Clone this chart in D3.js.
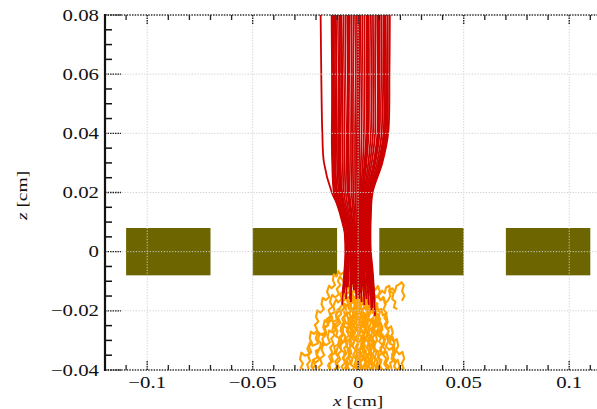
<!DOCTYPE html>
<html>
<head>
<meta charset="utf-8">
<script src="https://cdn.jsdelivr.net/npm/d3@7/dist/d3.min.js"></script>
<style>
  html, body { margin: 0; padding: 0; background: #fff; }
  svg { display: block; }
  text { font-family: "Liberation Serif", "Times New Roman", serif; fill: #111; }
</style>
</head>
<body>
<svg id="chart" width="597" height="409"></svg>
<script>
// Axis ticks (cm)
const xMajorTicks = [-0.1, -0.05, 0, 0.05, 0.1];
const xTickLabels = ["\u22120.1", "\u22120.05", "0", "0.05", "0.1"];
const zMajorTicks = [-0.04, -0.02, 0, 0.02, 0.04, 0.06, 0.08];
const zTickLabels = ["\u22120.04", "\u22120.02", "0", "0.02", "0.04", "0.06", "0.08"];
const xMinorStep = 0.01;
const zMinorStep = 0.005;

// Electrode blocks (cm)
const gateX0 = [-0.11, -0.05, 0.01, 0.07];
const gateX1 = [-0.07, -0.01, 0.05, 0.11];
const gateZ = [-0.008, 0.008];

// Track coordinates are stored in units of 10 µm (0.001 cm)
const TRACK_UNIT = 0.001;

// Focused (red) tracks: x sampled at these z levels, then a final end point
const redLevels = [80, 60, 40, 30, 20, 12, 5, 0, -6];
const redTrackX = [
  [-17.8, -17.5, -17.0, -16.2, -12.5, -7.2, -6.3, -6.1, -6.3],
  [-12.6, -12.4, -12.2, -12.0, -11.2, -8.0, -5.8, -5.5, -6.0],
  [-11.8, -11.9, -11.6, -11.5, -10.6, -7.6, -5.4, -5.1, -5.6],
  [-12.3, -12.1, -12.5, -12.3, -11.5, -8.3, -6.0, -5.8, -6.5],
  [-10.9, -11.0, -10.8, -10.8, -9.9, -7.1, -5.0, -4.7, -5.0],
  [-10.0, -10.3, -10.1, -10.0, -9.2, -6.6, -4.6, -4.4, -4.5],
  [-9.0, -9.2, -9.4, -9.3, -8.6, -6.1, -4.3, -4.0, -3.8],
  [-8.1, -8.0, -8.3, -8.3, -7.6, -5.5, -3.8, -3.6, -3.2],
  [-7.0, -7.3, -7.4, -7.3, -6.8, -4.9, -3.4, -3.2, -3.0],
  [-6.0, -6.2, -6.5, -6.4, -5.9, -4.3, -3.0, -2.8, -2.5],
  [-5.1, -5.0, -5.4, -5.4, -5.0, -3.6, -2.5, -2.3, -2.0],
  [-4.0, -4.3, -4.5, -4.4, -4.1, -3.0, -2.1, -1.9, -1.5],
  [-3.1, -3.2, -3.4, -3.4, -3.1, -2.3, -1.6, -1.5, -1.3],
  [-2.0, -2.4, -2.5, -2.5, -2.3, -1.7, -1.2, -1.1, -0.8],
  [-1.0, -1.2, -1.5, -1.5, -1.4, -1.0, -0.7, -0.6, -0.4],
  [0.0, -0.3, -0.6, -0.6, -0.5, -0.4, -0.3, -0.2, 0.0],
  [1.0, 0.8, 0.5, 0.4, 0.3, 0.2, 0.2, 0.3, 0.5],
  [2.0, 1.8, 1.6, 1.3, 0.8, 0.7, 0.7, 0.8, 1.1],
  [3.0, 2.9, 2.7, 2.2, 1.3, 1.1, 1.1, 1.2, 1.5],
  [4.1, 3.9, 3.8, 3.0, 1.8, 1.6, 1.5, 1.6, 2.0],
  [5.0, 5.1, 4.9, 3.9, 2.4, 2.1, 2.0, 2.1, 2.5],
  [6.0, 6.2, 6.0, 4.8, 2.9, 2.5, 2.4, 2.5, 3.0],
  [7.0, 7.1, 7.0, 5.6, 3.4, 3.0, 2.8, 3.0, 3.6],
  [8.1, 8.0, 8.0, 6.4, 3.9, 3.4, 3.2, 3.4, 4.1],
  [9.0, 9.2, 9.1, 7.3, 4.4, 3.8, 3.6, 3.8, 4.5],
  [10.1, 10.2, 10.1, 8.1, 4.9, 4.3, 4.0, 4.2, 4.9],
  [11.0, 11.2, 11.1, 8.9, 5.3, 4.7, 4.4, 4.6, 5.3],
  [12.0, 12.1, 12.0, 9.6, 5.8, 5.0, 4.8, 5.0, 5.7],
  [13.0, 13.2, 13.0, 10.4, 6.2, 5.4, 5.2, 5.4, 6.1],
  [14.0, 14.0, 13.6, 10.9, 6.5, 5.7, 5.5, 5.7, 6.5],
  [15.0, 14.8, 14.2, 11.4, 6.8, 6.0, 5.8, 6.0, 6.8],
  [-11.4, -11.6, -11.2, -11.1, -10.2, -7.3, -5.2, -4.9, -5.3],
  [-8.6, -8.7, -8.9, -8.8, -8.1, -5.8, -4.0, -3.8, -3.5],
  [-4.5, -4.6, -5.0, -4.9, -4.6, -3.3, -2.3, -2.1, -1.8],
  [0.5, 0.2, 0.0, -0.1, -0.1, -0.1, 0.0, 0.1, 0.3],
  [4.5, 4.6, 4.3, 3.5, 2.1, 1.8, 1.7, 1.9, 2.3],
  [9.5, 9.7, 9.6, 7.7, 4.6, 4.0, 3.8, 4.0, 4.7],
  [12.5, 12.6, 12.5, 10.0, 6.0, 5.2, 5.0, 5.2, 5.9]
];
const redTrackEnd = [
  [-6.8, -14], [-7.2, -13], [-6.8, -14], [-7.6, -18], [-5.8, -16], [-4.9, -12],
  [-3.4, -15], [-2.6, -11], [-3.5, -17], [-2.0, -13], [-1.6, -10], [-1.0, -14],
  [-0.8, -16], [-0.2, -12], [0.2, -15], [0.4, -11], [0.9, -14], [1.6, -17],
  [2.0, -12], [2.6, -15], [3.3, -13], [3.9, -16], [4.6, -14], [5.0, -18],
  [5.4, -13], [5.8, -15], [6.3, -20], [6.0, -11], [7.1, -16], [8.0, -21.7], [7.8, -17],
  [-6.2, -12], [-3.9, -16], [-1.4, -13], [0.6, -16], [2.9, -18], [5.5, -12], [6.8, -19]
];

// Scattered (orange) tracks: flat x,z pairs
const orangeTracks = [
  [-7.2,-13, -8.5,-14.5, -7.8,-16, -9.6,-17.2, -10.4,-16.1, -11.8,-18.3, -11.1,-20.4, -13.0,-21.2, -12.2,-23.0, -14.5,-24.1, -15.9,-23.2, -16.6,-25.6, -15.4,-27.3, -17.8,-28.0, -19.2,-27.1, -20.1,-29.4, -19.0,-31.0, -21.6,-31.8, -22.8,-30.6, -24.1,-32.9, -23.0,-34.5, -25.3,-35.2, -26.9,-34.1, -27.6,-36.3, -26.2,-37.8, -27.2,-39.2, -25.8,-40],
  [-6.8,-14, -5.9,-15.8, -7.5,-17.1, -6.6,-19.0, -8.3,-20.2, -9.7,-19.5, -10.5,-21.8, -9.2,-23.4, -11.0,-24.6, -10.2,-26.5, -12.4,-27.3, -13.8,-26.6, -14.5,-28.9, -13.4,-30.7, -15.2,-31.6, -16.7,-30.9, -17.3,-33.2, -16.1,-35.0, -18.0,-36.1, -17.2,-38.0, -18.8,-39.1, -18.1,-40],
  [-5.8,-16, -4.6,-17.6, -6.1,-18.8, -5.3,-20.7, -6.9,-21.9, -6.0,-23.8, -7.6,-24.5, -8.4,-26.7, -7.1,-28.1, -8.8,-29.5, -8.0,-31.4, -9.7,-32.3, -10.6,-34.5, -9.2,-35.8, -10.9,-37.1, -10.1,-39.0, -11.4,-40],
  [-4.9,-12, -6.2,-11.1, -7.4,-9.6, -8.7,-8.4, -9.6,-9.9, -8.5,-11.3, -10.2,-12.6, -9.1,-14.4, -11.0,-15.5, -12.3,-14.6, -13.4,-16.9, -12.2,-18.6, -14.0,-19.7, -13.1,-21.8, -15.0,-22.9, -14.2,-24.8, -16.1,-26.0, -15.3,-28.1, -17.0,-29.4, -16.2,-31.5, -18.4,-32.6, -19.6,-34.8, -18.3,-36.4, -20.2,-37.5, -21.4,-36.6, -22.2,-38.8, -21.0,-40],
  [-3.4,-15, -2.2,-16.4, -3.7,-17.9, -2.8,-19.6, -4.3,-20.8, -3.1,-22.5, -4.8,-23.6, -3.9,-25.4, -5.5,-26.7, -4.4,-28.3, -6.0,-29.5, -5.1,-31.4, -6.7,-32.6, -5.6,-34.5, -7.2,-35.7, -6.3,-37.6, -7.9,-38.8, -7.0,-40],
  [-2.6,-11, -1.4,-12.6, -2.9,-13.9, -1.8,-15.7, -0.4,-16.8, -1.5,-18.5, -0.2,-20.0, 1.2,-19.2, 1.9,-21.4, 0.7,-23.1, 2.2,-24.3, 1.3,-26.1, 2.8,-27.4, 1.6,-29.2, 3.1,-30.5, 2.2,-32.3, 3.7,-33.6, 2.5,-35.4, 4.0,-36.7, 3.0,-38.5, 4.4,-40],
  [-3.5,-17, -4.9,-18.4, -3.8,-20.1, -5.4,-21.3, -4.5,-23.2, -2.9,-24.0, -3.6,-26.0, -2.1,-27.2, -3.3,-28.9, -1.8,-30.2, -2.7,-32.0, -1.2,-33.4, -2.4,-35.1, -0.9,-36.4, -1.8,-38.2, -0.5,-40],
  [-2.0,-13, -0.8,-14.6, -2.1,-16.2, -0.9,-17.8, -2.3,-19.4, -1.1,-21.0, -2.6,-22.6, -1.4,-24.2, -2.9,-25.8, -1.5,-27.5, -3.0,-29.0, -4.4,-30.1, -3.6,-32.0, -5.0,-33.3, -4.1,-35.1, -5.6,-36.3, -4.7,-38.1, -6.2,-39.3, -5.4,-40],
  [-1.6,-10, -2.8,-8.6, -1.9,-7.2, -0.6,-8.4, -1.3,-10.2, 0.1,-11.6, -0.9,-13.3, 0.5,-14.8, -0.5,-16.5, 0.9,-18.0, 0.0,-19.8, 1.4,-21.3, 0.4,-23.0, 1.8,-24.5, 0.9,-26.3, 2.4,-27.7, 1.2,-29.4, 2.7,-30.9, 1.6,-32.6, 3.1,-34.1, 2.0,-35.8, 3.5,-37.3, 2.3,-39.0, 3.2,-40],
  [-1.0,-14, 0.3,-15.5, -0.6,-17.3, 0.8,-18.8, -0.2,-20.6, -1.6,-21.8, -0.8,-23.6, -2.2,-24.9, -1.1,-26.6, -2.5,-27.9, -1.3,-29.7, 0.2,-30.8, -0.6,-32.7, 0.9,-33.9, -0.1,-35.7, 1.3,-37.0, 0.4,-38.8, 1.6,-40],
  [-0.8,-16, -2.1,-17.4, -1.0,-19.1, -2.6,-20.3, -1.5,-22.1, -3.0,-23.3, -2.0,-25.1, -3.6,-26.4, -2.5,-28.2, -4.0,-29.4, -2.8,-31.2, -4.3,-32.5, -3.2,-34.3, -4.8,-35.5, -3.7,-37.3, -5.2,-38.6, -4.2,-40],
  [0.2,-15, 1.5,-16.4, 0.6,-18.1, 2.0,-19.5, 1.1,-21.3, 2.6,-22.6, 1.7,-24.4, 3.2,-25.7, 4.6,-24.9, 5.3,-27.0, 4.2,-28.6, 5.7,-29.9, 4.8,-31.7, 6.3,-33.0, 5.4,-34.8, 6.9,-36.1, 5.9,-37.9, 7.2,-39.2, 6.4,-40],
  [0.4,-11, 1.7,-9.8, 2.9,-11.2, 2.1,-12.9, 3.5,-14.2, 2.6,-16.0, 4.0,-17.3, 3.1,-19.1, 4.6,-20.4, 3.6,-22.2, 5.1,-23.5, 6.5,-22.7, 7.2,-24.9, 6.1,-26.5, 7.6,-27.8, 6.7,-29.6, 8.2,-30.9, 7.2,-32.7, 8.7,-34.0, 7.8,-35.8, 9.2,-37.1, 8.3,-38.9, 9.5,-40],
  [0.9,-14, -0.4,-15.6, 0.7,-17.2, -0.6,-18.9, 0.6,-20.5, -0.7,-22.2, 0.5,-23.8, -0.9,-25.5, 0.4,-27.1, -1.0,-28.8, 0.3,-30.4, -1.1,-32.1, 0.2,-33.7, -1.3,-35.4, 0.1,-37.0, -1.4,-38.7, -0.3,-40],
  [1.6,-17, 3.0,-18.3, 2.0,-20.1, 3.5,-21.4, 2.5,-23.2, 4.0,-24.5, 3.0,-26.3, 4.5,-27.6, 3.5,-29.4, 5.0,-30.7, 4.0,-32.5, 5.4,-33.8, 4.4,-35.6, 5.9,-36.9, 4.9,-38.7, 6.0,-40],
  [2.0,-12, 3.4,-13.1, 4.8,-12.2, 5.6,-14.3, 7.1,-13.5, 8.0,-15.6, 9.4,-14.8, 10.6,-16.4, 11.9,-15.3, 12.6,-17.5, 14.0,-16.6, 15.3,-14.9, 14.6,-13.1, 16.2,-12.4, 17.4,-13.6, 18.1,-11.6, 19.6,-11.0, 20.5,-10.3, 21.6,-11.4, 20.8,-13.3, 21.9,-15.0, 20.7,-16.6],
  [2.6,-15, 4.0,-16.4, 5.3,-15.6, 6.1,-17.8, 5.0,-19.4, 6.6,-20.6, 8.0,-19.8, 8.8,-22.0, 7.7,-23.6, 9.3,-24.8, 10.7,-24.0, 11.5,-26.2, 10.4,-27.8, 12.0,-29.0, 13.4,-28.2, 14.2,-30.4, 13.1,-32.0, 14.7,-33.2, 16.1,-32.4, 16.9,-34.6, 15.8,-36.2, 17.4,-37.4, 18.8,-36.6, 19.6,-38.8, 18.9,-40],
  [3.3,-13, 4.6,-14.5, 3.7,-16.2, 5.1,-17.6, 4.2,-19.4, 5.7,-20.7, 4.7,-22.5, 6.2,-23.8, 5.2,-25.6, 6.8,-26.9, 5.8,-28.7, 7.3,-30.0, 6.3,-31.8, 7.8,-33.1, 6.8,-34.9, 8.3,-36.2, 7.3,-38.0, 8.7,-39.3, 8.0,-40],
  [3.9,-16, 5.4,-17.2, 6.6,-16.3, 7.3,-18.5, 8.8,-17.8, 9.5,-20.0, 10.9,-19.3, 11.7,-21.6, 13.1,-20.8, 13.8,-23.1, 12.6,-24.7, 14.2,-26.0, 15.6,-25.2, 16.4,-27.5, 15.3,-29.1, 16.9,-30.3, 18.3,-29.6, 19.0,-31.8, 17.9,-33.4, 19.5,-34.7, 21.0,-33.9, 21.8,-36.2, 20.6,-37.8, 21.5,-39.4, 20.4,-40],
  [4.6,-14, 6.0,-15.2, 5.1,-17.0, 6.6,-18.3, 7.9,-17.4, 8.7,-19.7, 7.5,-21.3, 9.0,-22.6, 8.1,-24.4, 9.7,-25.6, 8.6,-27.4, 10.1,-28.7, 11.5,-27.9, 12.3,-30.2, 11.2,-31.8, 12.8,-33.0, 11.8,-34.8, 13.3,-36.1, 12.3,-37.9, 13.6,-39.2, 12.9,-40],
  [5.0,-18, 3.6,-19.3, 4.6,-21.0, 3.1,-22.3, 4.2,-24.1, 2.7,-25.3, 3.7,-27.1, 2.2,-28.4, 3.3,-30.1, 1.8,-31.4, 2.9,-33.2, 1.4,-34.4, 2.4,-36.2, 0.9,-37.5, 2.0,-39.2, 1.1,-40],
  [5.4,-13, 6.8,-11.9, 8.1,-12.9, 9.4,-11.6, 10.3,-13.6, 9.2,-15.3, 10.8,-16.4, 12.2,-15.6, 13.0,-17.9, 11.9,-19.5, 13.5,-20.7, 12.4,-22.5, 14.0,-23.7, 12.9,-25.5, 14.5,-26.7, 13.4,-28.5, 15.0,-29.7, 16.4,-28.9, 17.2,-31.2, 16.0,-32.8, 17.6,-34.0, 16.5,-35.8, 18.0,-37.0, 17.0,-38.8, 18.2,-40],
  [5.8,-15, 4.4,-16.3, 5.4,-18.0, 3.9,-19.3, 5.0,-21.1, 3.5,-22.4, 4.6,-24.2, 3.1,-25.5, 4.1,-27.3, 5.6,-28.5, 4.5,-30.3, 6.0,-31.6, 5.0,-33.4, 6.5,-34.7, 5.5,-36.5, 7.0,-37.8, 6.1,-39.6],
  [6.3,-20, 7.8,-21.2, 6.8,-23.0, 8.3,-24.3, 7.3,-26.1, 8.8,-27.4, 10.2,-26.5, 11.0,-28.8, 9.9,-30.4, 11.5,-31.6, 10.4,-33.4, 12.0,-34.6, 13.4,-33.8, 14.2,-36.1, 13.0,-37.7, 14.6,-38.9, 13.8,-40],
  [-6.5,-13, -5.4,-11.4, -6.6,-9.9, -5.5,-8.3, -6.9,-7.0, -8.3,-7.8, -9.4,-6.6, -10.2,-8.4, -11.6,-7.7, -12.0,-9.6, -11.0,-11.3, -12.6,-12.4, -13.8,-11.5, -14.8,-13.6, -13.7,-15.3, -15.4,-16.4, -16.8,-15.6, -17.4,-17.8, -16.3,-19.4, -17.9,-20.6, -19.3,-19.8, -20.0,-22.0, -18.9,-23.6, -20.5,-24.8, -19.4,-26.6, -21.0,-27.8, -22.4,-27.0, -23.0,-29.3, -21.9,-30.9, -23.4,-32.1, -22.3,-33.9, -23.8,-35.1, -22.8,-36.9, -24.2,-38.1, -23.3,-39.9],
  [-7.6,-18, -9.0,-19.3, -8.0,-21.0, -9.6,-22.2, -8.5,-24.0, -10.1,-25.2, -11.5,-24.4, -12.3,-26.6, -11.2,-28.2, -12.8,-29.4, -11.7,-31.2, -13.3,-32.4, -12.2,-34.2, -13.8,-35.4, -12.7,-37.2, -14.3,-38.4, -13.4,-40],
  [-2.5,-11, -3.9,-12.4, -2.9,-14.1, -4.4,-15.4, -3.4,-17.2, -4.9,-18.5, -6.3,-17.6, -7.1,-19.8, -6.0,-21.5, -7.6,-22.7, -6.5,-24.5, -8.1,-25.7, -7.0,-27.5, -8.6,-28.7, -7.5,-30.5, -9.1,-31.7, -8.0,-33.5, -9.6,-34.7, -8.5,-36.5, -10.1,-37.7, -9.0,-39.5],
  [-0.5,-12, 0.8,-13.0, 0.2,-14.9, 1.9,-15.4, 2.4,-17.6, 1.0,-18.2, 1.6,-20.5, 3.2,-21.0, 2.1,-22.4, 2.9,-24.6, 1.3,-25.1, -0.4,-24.3, -1.2,-26.2, 0.3,-27.5, -0.1,-29.8, 1.8,-30.4, 1.1,-32.6, -0.7,-33.2, -0.2,-35.5, 1.5,-36.6, 0.6,-38.1, 1.9,-40],
  [-4.0,-9.5, -3.1,-10.8, -4.6,-11.5, -3.9,-13.6, -5.7,-14.2, -5.0,-16.4, -3.3,-17.0, -3.8,-19.1, -2.0,-19.8, -2.7,-21.9, -4.5,-22.4, -3.6,-24.5, -5.3,-25.8, -6.9,-25.1, -7.6,-27.3, -6.1,-28.5, -6.8,-30.6, -8.6,-31.1, -8.0,-33.4, -6.4,-34.1, -7.1,-36.3, -5.5,-37.0, -6.0,-39.2, -4.8,-40],
  [7.1,-16, 8.0,-17.9, 6.5,-18.6, 7.3,-20.7, 9.1,-21.1, 10.4,-22.8, 9.7,-24.6, 11.5,-25.3, 10.2,-26.9, 11.0,-28.9, 12.8,-29.4, 12.1,-31.6, 10.5,-32.5, 11.2,-34.4, 9.6,-35.3, 10.4,-37.5, 8.9,-38.2, 9.8,-40],
  [8.0,-21.7, 9.5,-22.4, 9.0,-24.5, 10.8,-25.2, 10.1,-27.5, 8.4,-28.0, 8.9,-30.2, 7.2,-31.1, 8.0,-33.0, 9.7,-33.8, 9.3,-36.0, 11.0,-36.6, 10.2,-38.7, 11.6,-40],
  [-9.0,-20, -10.6,-21.2, -10.1,-23.1, -12.0,-23.7, -11.4,-25.9, -9.8,-26.8, -10.5,-28.6, -8.8,-29.3, -9.6,-31.5, -11.4,-32.0, -10.9,-34.2, -12.7,-35.0, -12.0,-37.1, -13.8,-37.8, -13.1,-40],
  [-5.3,-7.5, -4.2,-8.8, -5.0,-10.6, -3.5,-12.0, -4.3,-13.9, -2.6,-14.7, -3.2,-16.9, -1.5,-17.5, -2.2,-19.7, -0.4,-20.4, -1.1,-22.6, 0.6,-23.2, -0.3,-25.3, 1.4,-26.1, 0.5,-28.2, 2.3,-28.9, 1.5,-31.0, 3.2,-31.7, 2.4,-33.9, 4.1,-34.5, 3.3,-36.8, 5.0,-37.4, 4.3,-39.5],
  [3.0,-9.0, 4.4,-9.8, 3.9,-11.7, 5.6,-12.5, 6.8,-10.9, 7.5,-12.4, 6.7,-14.1, 8.2,-14.9, 7.4,-17.0, 9.1,-17.6, 8.5,-19.8, 10.3,-20.3, 9.5,-22.4, 7.9,-23.3, 8.6,-25.3, 7.0,-26.2, 7.8,-28.3, 6.1,-29.0, 6.9,-31.2, 5.2,-31.9, 6.0,-34.1, 4.4,-34.9, 5.1,-37.0, 3.6,-37.7, 4.4,-40],
  [-12.0,-22, -13.7,-22.8, -14.3,-24.9, -16.0,-25.3, -15.2,-27.4, -16.9,-28.3, -18.4,-27.6, -19.0,-29.8, -17.6,-31.0, -18.3,-33.0, -20.1,-33.5, -19.4,-35.8, -21.2,-36.5, -20.5,-38.6, -22.0,-39.5],
  [14.0,-28, 15.6,-29.0, 15.0,-31.1, 16.8,-31.6, 17.4,-33.8, 16.0,-34.7, 16.7,-36.8, 15.1,-37.6, 15.8,-39.7],
  [-1.2,-19, 0.4,-19.7, -0.3,-21.8, 1.2,-22.7, 0.3,-24.7, 2.0,-25.4, 3.6,-24.6, 4.2,-26.8, 2.6,-27.6, 3.4,-29.7, 1.7,-30.3, 2.4,-32.6, 0.7,-33.1, 1.5,-35.3, -0.2,-36.1, 0.6,-38.2, -0.9,-39.1],
  [-6.0,-24, -4.3,-24.8, -5.0,-26.9, -3.3,-27.6, -4.1,-29.7, -5.9,-30.3, -5.2,-32.5, -3.6,-33.2, -4.4,-35.3, -2.7,-36.0, -3.4,-38.2, -2.0,-39.1, -2.6,-40],
  [10.0,-14.5, 11.3,-13.2, 12.6,-14.0, 13.2,-12.1, 14.7,-11.5, 15.2,-13.4, 16.8,-14.1, 16.1,-16.0, 17.6,-16.9, 16.9,-18.8, 18.5,-19.4]
];

// Colours
const gateColor = "#6c6500";
const redColor = "#cc0000";
const orangeColor = "#ffa100";

// Layout
const W = 597, H = 409;
const plot = { left: 105, top: 15, bottom: 370, right: 611.4 };

const svg = d3.select("#chart");
const x = d3.scaleLinear().domain([-0.12, 0.12]).range([plot.left, plot.right]);
const z = d3.scaleLinear().domain([-0.04, 0.08]).range([plot.bottom, plot.top]);

svg.append("defs").append("clipPath").attr("id", "plotClip")
  .append("rect")
  .attr("x", plot.left).attr("y", plot.top)
  .attr("width", plot.right - plot.left).attr("height", plot.bottom - plot.top);

const area = svg.append("g").attr("clip-path", "url(#plotClip)");

// Electrode blocks
area.append("g").selectAll("rect")
  .data(gateX0.map((x0, i) => [x0, gateX1[i]]))
  .join("rect")
  .attr("x", d => x(d[0]))
  .attr("width", d => x(d[1]) - x(d[0]))
  .attr("y", z(gateZ[1]))
  .attr("height", z(gateZ[0]) - z(gateZ[1]))
  .attr("fill", gateColor);

// Scattered tracks
const pairs = flat => d3.range(0, flat.length, 2).map(i => [flat[i] * TRACK_UNIT, flat[i + 1] * TRACK_UNIT]);
const jagged = d3.line().x(d => x(d[0])).y(d => z(d[1]));
area.append("g").selectAll("path")
  .data(orangeTracks.map(pairs))
  .join("path")
  .attr("d", jagged)
  .attr("fill", "none")
  .attr("stroke", orangeColor)
  .attr("stroke-width", 2.1)
  .attr("stroke-linejoin", "round");

// Focused tracks
const smooth = d3.line().x(d => x(d[0])).y(d => z(d[1])).curve(d3.curveCatmullRom.alpha(0.5));
const redPts = redTrackX.map((xs, i) =>
  xs.map((v, k) => [v * TRACK_UNIT, redLevels[k] * TRACK_UNIT])
    .concat([[redTrackEnd[i][0] * TRACK_UNIT, redTrackEnd[i][1] * TRACK_UNIT]]));
area.append("g").selectAll("path")
  .data(redPts)
  .join("path")
  .attr("d", smooth)
  .attr("fill", "none")
  .attr("stroke", redColor)
  .attr("stroke-width", 1.8);

// Dotted grid, drawn over the marks
const grid = svg.append("g").attr("stroke", "#cfcfcf").attr("stroke-width", 1)
  .attr("stroke-dasharray", "1.2,1.6");
grid.selectAll("line.v").data(xMajorTicks).join("line").attr("class", "v")
  .attr("x1", d => x(d)).attr("x2", d => x(d))
  .attr("y1", plot.top).attr("y2", plot.bottom);
grid.selectAll("line.h").data(zMajorTicks.slice(1, -1)).join("line").attr("class", "h")
  .attr("x1", plot.left).attr("x2", W)
  .attr("y1", d => z(d)).attr("y2", d => z(d));

// Frame: dotted top/bottom edges, solid left axis
const frame = svg.append("g");
[plot.top, plot.bottom].forEach(yy => {
  frame.append("line")
    .attr("x1", plot.left).attr("x2", W).attr("y1", yy).attr("y2", yy)
    .attr("stroke", "#333").attr("stroke-width", 1.4).attr("stroke-dasharray", "1.5,1.2");
});

const xMinor = d3.range(-0.12, 0.1201, xMinorStep).map(v => +v.toFixed(3))
  .filter(v => !xMajorTicks.some(t => Math.abs(t - v) < 1e-6));
const zMinor = d3.range(-0.04, 0.0801, zMinorStep).map(v => +v.toFixed(4))
  .filter(v => !zMajorTicks.some(t => Math.abs(t - v) < 1e-6));

// x minor ticks on bottom (upward) and top (downward)
frame.append("g").selectAll("line").data(xMinor).join("line")
  .attr("x1", d => x(d)).attr("x2", d => x(d))
  .attr("y1", plot.bottom).attr("y2", plot.bottom - 5)
  .attr("stroke", "#222").attr("stroke-width", 1.3);
frame.append("g").selectAll("line").data(xMinor).join("line")
  .attr("x1", d => x(d)).attr("x2", d => x(d))
  .attr("y1", plot.top).attr("y2", plot.top + 5)
  .attr("stroke", "#222").attr("stroke-width", 1.3);
// x major ticks (dotted, longer)
[[plot.bottom, -10], [plot.top, 10]].forEach(([yy, len]) => {
  frame.append("g").selectAll("line").data(xMajorTicks).join("line")
    .attr("x1", d => x(d)).attr("x2", d => x(d))
    .attr("y1", yy).attr("y2", yy + len)
    .attr("stroke", "#222").attr("stroke-width", 1.4).attr("stroke-dasharray", "1.5,1");
});

// z ticks on the left axis
frame.append("g").selectAll("line").data(zMinor).join("line")
  .attr("x1", plot.left).attr("x2", plot.left + 7)
  .attr("y1", d => z(d)).attr("y2", d => z(d))
  .attr("stroke", "#111").attr("stroke-width", 1.5);
frame.append("g").selectAll("line").data(zMajorTicks).join("line")
  .attr("x1", plot.left).attr("x2", plot.left + 16)
  .attr("y1", d => z(d)).attr("y2", d => z(d))
  .attr("stroke", "#222").attr("stroke-width", 1.4).attr("stroke-dasharray", "1.5,1");

frame.append("line")
  .attr("x1", plot.left).attr("x2", plot.left)
  .attr("y1", plot.top - 1).attr("y2", plot.bottom + 1)
  .attr("stroke", "#111").attr("stroke-width", 2.2);

// Tick labels (slightly widened serif)
const SX = 1.3, FS = 16;
svg.append("g").selectAll("text").data(zMajorTicks).join("text")
  .attr("font-family", "Liberation Serif")
  .attr("transform", d => `translate(${plot.left - 6},${z(d) + 5.5}) scale(${SX},1)`)
  .attr("text-anchor", "end")
  .attr("font-size", FS)
  .text((d, i) => zTickLabels[i]);

svg.append("g").selectAll("text").data(xMajorTicks).join("text")
  .attr("font-family", "Liberation Serif")
  .attr("transform", d => `translate(${x(d)},${388}) scale(${SX},1)`)
  .attr("text-anchor", "middle")
  .attr("font-size", FS)
  .text((d, i) => xTickLabels[i]);

// Axis titles
const xTitle = svg.append("text")
  .attr("font-family", "Liberation Serif")
  .attr("transform", `translate(${x(0)},${406}) scale(${SX},1)`)
  .attr("text-anchor", "middle").attr("font-size", 15);
xTitle.append("tspan").attr("font-style", "italic").text("x");
xTitle.append("tspan").text(" [cm]");

const zTitle = svg.append("text")
  .attr("font-family", "Liberation Serif")
  .attr("transform", `translate(${27},${z(0.019)}) rotate(-90) scale(${SX},1)`)
  .attr("text-anchor", "middle").attr("font-size", 15);
zTitle.append("tspan").attr("font-style", "italic").text("z");
zTitle.append("tspan").text(" [cm]");
</script>
</body>
</html>
